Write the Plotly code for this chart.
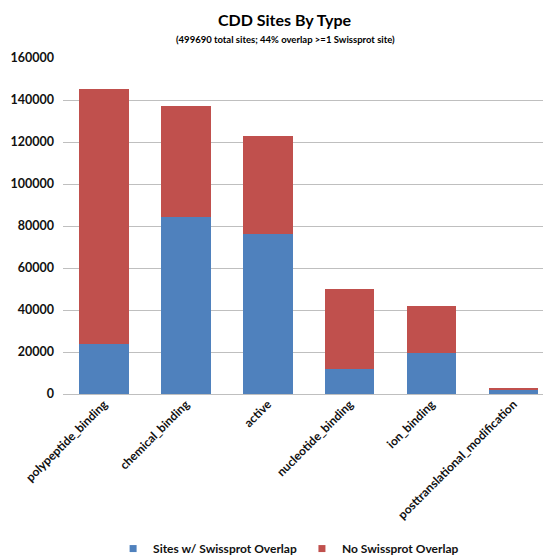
import plotly.graph_objects as go

categories = ["polypeptide_binding", "chemical_binding", "active",
              "nucleotide_binding", "ion_binding", "posttranslational_modification"]
overlap = [23800, 84100, 76000, 11900, 19300, 2300]
no_overlap = [121400, 52900, 46700, 38300, 22650, 700]
y_ticks = [0, 20000, 40000, 60000, 80000, 100000, 120000, 140000, 160000]
series_names = ["Sites w/ Swissprot Overlap", "No Swissprot Overlap"]
series_colors = ["#4F81BD", "#C0504D"]

FONT = "Lato"
fig = go.Figure()
for vals, name, col in zip([overlap, no_overlap], series_names, series_colors):
    fig.add_trace(go.Bar(x=categories, y=vals, name=name, showlegend=False,
                         marker=dict(color=col, line=dict(width=0))))
# legend-only entries with small square swatches
for name, col in zip(series_names, series_colors):
    fig.add_trace(go.Scatter(x=[None], y=[None], mode="markers", name=name,
                             marker=dict(symbol="square", size=7, color=col)))

fig.update_layout(
    barmode="stack",
    bargap=0.395,
    width=543, height=557,
    margin=dict(l=63, r=0, t=58, b=163, autoexpand=False),
    paper_bgcolor="white", plot_bgcolor="white",
    font=dict(family=FONT, color="#000000", size=11),
    showlegend=True,
    legend=dict(orientation="h", x=0.47, xanchor="center", y=-0.46, yanchor="middle",
                font=dict(family=FONT, size=12, color="#111", weight="bold"),
                traceorder="normal", itemwidth=30),
    xaxis=dict(range=[-0.5, 5.36], tickangle=-45, showgrid=False, showline=False,
               automargin=False, ticks="",
               tickfont=dict(family=FONT, size=12, color="#111", weight="bold")),
    yaxis=dict(range=[0, 160000], tickvals=y_ticks, ticktext=[str(v) for v in y_ticks],
               showgrid=True, gridcolor="#BFBFBF", gridwidth=1.2, zeroline=True,
               zerolinecolor="#BFBFBF", zerolinewidth=1.2, showline=False, ticks="",
               automargin=False,
               tickfont=dict(family=FONT, size=12.5, color="#111", weight="bold"),
               ticklabelstandoff=8),
    annotations=[
        dict(text="<b>CDD Sites By Type</b>", x=285, y=20, xref="paper", yref="paper",
             showarrow=False, font=dict(family=FONT, size=16, color="#000")),
        dict(text="<b>(499690 total sites; 44% overlap >=1 Swissprot site)</b>", x=285, y=40,
             xref="paper", yref="paper", showarrow=False,
             font=dict(family=FONT, size=9.5, color="#000")),
    ],
)
# convert pixel positions of annotations into paper coordinates
pw = 543 - 63
ph = 557 - 58 - 163
for a in fig.layout.annotations:
    px, py = a.x, a.y
    a.x = (px - 63) / pw
    a.y = (557 - 163 - py) / ph
    a.xanchor = "center"
    a.yanchor = "middle"

fig.write_html("out.html")
